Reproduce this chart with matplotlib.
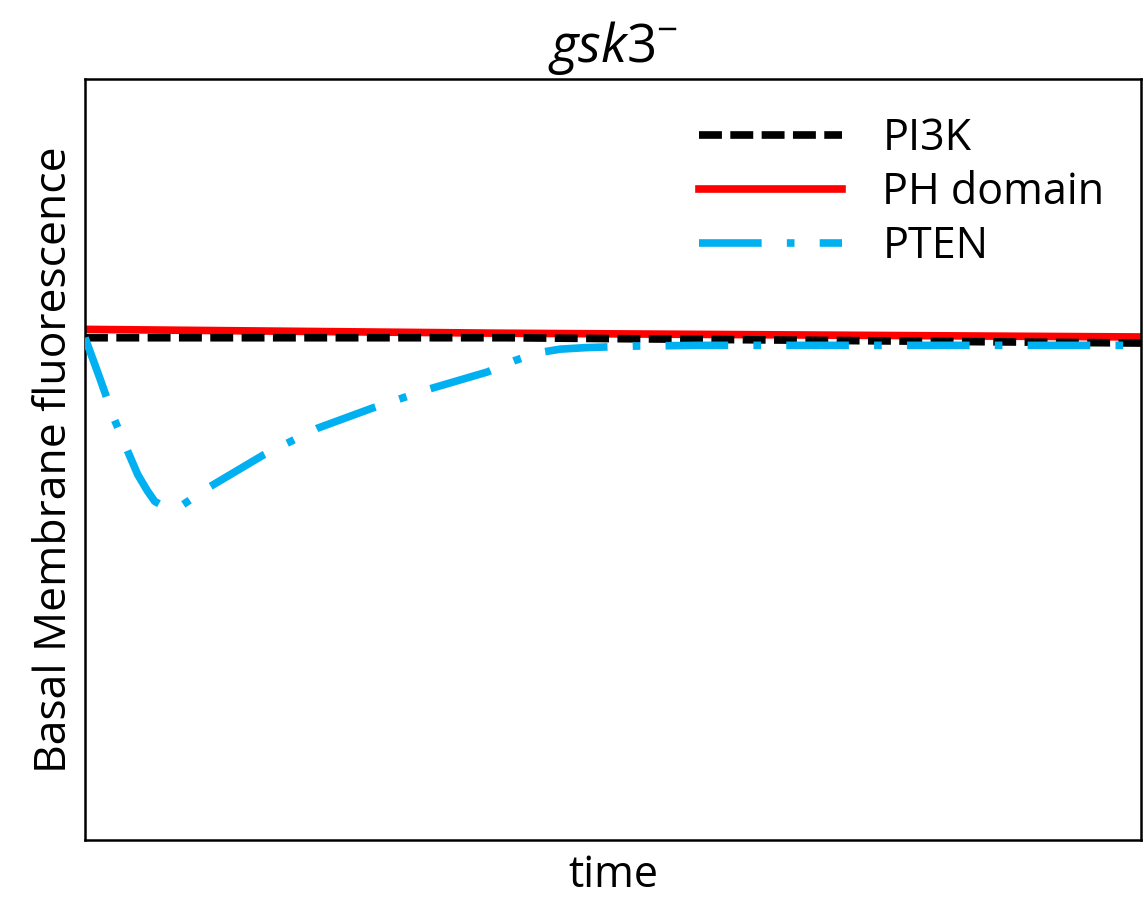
import numpy as np
import matplotlib.pyplot as plt

plt.rcParams['font.family'] = ['Open Sans', 'DejaVu Sans']
plt.rcParams['mathtext.fontset'] = 'custom'
plt.rcParams['mathtext.it'] = 'Open Sans:italic'
plt.rcParams['mathtext.rm'] = 'Open Sans'

# values (time in %, fluorescence in axis units)
pi3k_t = [0, 40, 100]
pi3k_y = [0.660, 0.660, 0.653]

ph_t = [0, 39, 100]
ph_y = [0.671, 0.666, 0.661]

pten_t = [0, 1.4, 2.8, 4.1, 5.0, 5.9, 6.6, 7.4, 8.2, 9.2, 10.4, 11.8, 16.9,
          22.0, 27.3, 32.7, 38.1, 40.7, 42.8, 45.0, 47.4, 51.9, 58.2, 100]
pten_y = [0.660, 0.607, 0.552, 0.509, 0.480, 0.459, 0.445, 0.439, 0.438,
          0.440, 0.451, 0.464, 0.506, 0.541, 0.568, 0.593, 0.615, 0.630,
          0.640, 0.645, 0.647, 0.649, 0.650, 0.650]

fig = plt.figure(figsize=(11.44, 9.0), dpi=100)
ax = fig.add_axes([85/1144, 60/900, 1056/1144, 761/900])

lw = 5.5
ax.plot(pi3k_t, pi3k_y, color='black', lw=lw, dashes=(3.0, 1.1),
        dash_capstyle='butt', label='PI3K', zorder=3)
ax.plot(ph_t, ph_y, color='#ff0000', lw=lw, label='PH domain', zorder=2)
ax.plot(pten_t, pten_y, color='#00b0f0', lw=lw, dashes=(8.2, 3.3, 1.0, 3.3),
        dash_capstyle='butt', label='PTEN', zorder=4)

ax.set_xlim(0, 100)
ax.set_ylim(0, 1)
ax.set_xticks([])
ax.set_yticks([])
for s in ax.spines.values():
    s.set_linewidth(1.8)

ax.set_xlabel('time', fontsize=31, labelpad=10)
ax.set_ylabel('Basal Membrane fluorescence', fontsize=32, labelpad=6)
ax.set_title(r'$gsk3^{-}$', fontsize=38, pad=12)

ax.legend(loc='upper right', bbox_to_anchor=(0.99, 0.985), frameon=False,
          fontsize=31, handlelength=3.3, handletextpad=0.95,
          labelspacing=0.22, borderaxespad=0.3, borderpad=0.3)

fig.savefig('out.png', dpi=100)
